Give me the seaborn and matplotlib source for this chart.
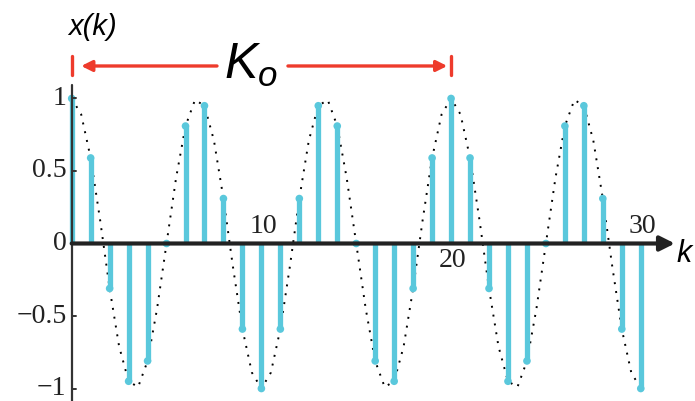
import matplotlib
matplotlib.use("Agg")
import matplotlib.pyplot as plt
import pandas as pd
import seaborn as sns

# samples x(k) = stem heights, k = 0..30
k = list(range(31))
x_k = [1.0, 0.59, -0.31, -0.95, -0.81, 0.0, 0.81, 0.95, 0.31, -0.59,
       -1.0, -0.59, 0.31, 0.95, 0.81, 0.0, -0.81, -0.95, -0.31, 0.59,
       1.0, 0.59, -0.31, -0.95, -0.81, 0.0, 0.81, 0.95, 0.31, -0.59, -1.0]

# dotted continuous envelope, read at half-sample steps
curve_k = [i * 0.5 for i in range(61)]
curve_x = [1.0, 0.89, 0.59, 0.16, -0.31, -0.71, -0.95, -0.99, -0.81, -0.45,
           0.0, 0.45, 0.81, 0.99, 0.95, 0.71, 0.31, -0.16, -0.59, -0.89,
           -1.0, -0.89, -0.59, -0.16, 0.31, 0.71, 0.95, 0.99, 0.81, 0.45,
           0.0, -0.45, -0.81, -0.99, -0.95, -0.71, -0.31, 0.16, 0.59, 0.89,
           1.0, 0.89, 0.59, 0.16, -0.31, -0.71, -0.95, -0.99, -0.81, -0.45,
           0.0, 0.45, 0.81, 0.99, 0.95, 0.71, 0.31, -0.16, -0.59, -0.89, -1.0]

y_ticks = [1, 0.5, 0, -0.5, -1]
y_labels = ["1", "0.5", "0", "\u22120.5", "\u22121"]
x_ticks = [10, 20, 30]
x_label_side = [1, -1, 1]   # above / below the axis
period = (0, 20)

STEM = "#5ac8dc"
RED = "#ee3b2c"
INK = "#222222"

sns.set_theme(style="white")
plt.rcParams["font.family"] = ["Liberation Sans", "DejaVu Sans"]
plt.rcParams["mathtext.fontset"] = "custom"
plt.rcParams["mathtext.it"] = "Liberation Sans:italic"
plt.rcParams["mathtext.rm"] = "Liberation Sans"

fig = plt.figure(figsize=(6.95, 4.01), dpi=100)
ax = fig.add_axes([0, 0, 1, 1])
ax.set_xlim(-3.78, 32.86)
ax.set_ylim(-1.086, 1.679)
ax.axis("off")

samples = pd.DataFrame({"k": k, "x": x_k})
curve = pd.DataFrame({"k": curve_k, "x": curve_x})

# dotted envelope
sns.lineplot(data=curve, x="k", y="x", ax=ax, color="black", lw=1.4,
             linestyle=(0, (1.0, 3.6)), estimator=None, zorder=2)

# stems
ax.vlines(samples["k"], 0, samples["x"], color=STEM, lw=3.8, zorder=3)
sns.scatterplot(data=samples, x="k", y="x", ax=ax, color=STEM, s=30,
                edgecolor="none", zorder=4, legend=False)

# y axis with small inner ticks
ax.plot([0, 0], [-1.2, 1.093], color="#333333", lw=1.6, zorder=5)
for t in y_ticks:
    if t != 0:
        ax.plot([0, 0.22], [t, t], color="#333333", lw=1.4, zorder=5)
for t, lab in zip(y_ticks, y_labels):
    ax.text(-0.28, t, lab, ha="right", va="center", fontsize=20,
            family="Liberation Serif", color=INK)

# x axis with arrow
ax.annotate("", xy=(31.8, 0), xytext=(0, 0),
            arrowprops=dict(arrowstyle="-|>", color=INK, lw=3,
                            mutation_scale=22, shrinkA=0, shrinkB=0),
            zorder=5)
for t, side in zip(x_ticks, x_label_side):
    ax.text(t + 0.1, 0.12 * side, str(t), ha="center", va="center",
            fontsize=20, family="Liberation Serif", color=INK)

ax.text(1.1, 1.49, "x(k)", ha="center", va="center", fontsize=21,
        style="italic", color="black")
ax.text(32.3, -0.07, "k", ha="center", va="center", fontsize=22,
        style="italic", color="black")

# period marker K_o
y_arr = 1.224
for p in period:
    ax.plot([p, p], [1.162, 1.29], color=RED, lw=2.4, zorder=6)
ax.annotate("", xy=(period[0] + 0.5, y_arr), xytext=(7.66, y_arr),
            arrowprops=dict(arrowstyle="-|>", color=RED, lw=2.4,
                            mutation_scale=16, shrinkA=0, shrinkB=0))
ax.annotate("", xy=(period[1] - 0.2, y_arr), xytext=(11.4, y_arr),
            arrowprops=dict(arrowstyle="-|>", color=RED, lw=2.4,
                            mutation_scale=16, shrinkA=0, shrinkB=0))
ax.text(9.45, 1.23, r"$K_o$", ha="center", va="center", fontsize=36,
        color="black")

fig.savefig("out.png", dpi=100)
